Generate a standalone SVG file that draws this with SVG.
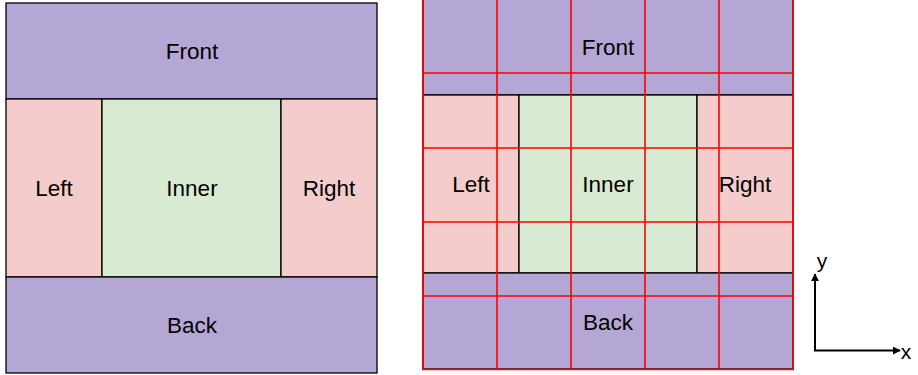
<svg xmlns="http://www.w3.org/2000/svg" width="918" height="375" viewBox="0 0 918 375">
<style>
.p{fill:#b4a7d6;stroke:#000;stroke-width:1.3}
.r{fill:#f4cccc;stroke:#000;stroke-width:1.3}
.g{fill:#d9ead3;stroke:#000;stroke-width:1.3}
.t{font-family:"Liberation Sans",Arial,sans-serif;font-size:22.5px;fill:#000;text-anchor:middle;dominant-baseline:central}
.grid line{stroke:#ff0000;stroke-width:1.6}
.ax{stroke:#000;stroke-width:2;fill:none}
.al{font-family:"Liberation Sans",Arial,sans-serif;font-size:21px;fill:#000;text-anchor:middle}
</style>
<defs>
<marker id="ah" viewBox="0 0 10 10" refX="9" refY="5" markerWidth="4" markerHeight="4" orient="auto" markerUnits="strokeWidth">
<path d="M0,0 L10,5 L0,10 z" fill="#000"/>
</marker>
</defs>
<rect width="918" height="375" fill="#fff"/>
<g id="left-diagram">
<g id="front1"><rect class="p" x="6" y="3" width="371" height="96"/><text class="t" x="192" y="51">Front</text></g>
<g id="left1"><rect class="r" x="6" y="99" width="96" height="178"/><text class="t" x="54" y="188">Left</text></g>
<g id="inner1"><rect class="g" x="102" y="99" width="179" height="178"/><text class="t" x="192" y="188">Inner</text></g>
<g id="right1"><rect class="r" x="281" y="99" width="96" height="178"/><text class="t" x="329" y="188">Right</text></g>
<g id="back1"><rect class="p" x="6" y="277" width="371" height="96"/><text class="t" x="192" y="325">Back</text></g>
</g>
<g id="right-diagram">
<g id="front2"><rect class="p" x="423" y="-1" width="370" height="96"/><text class="t" x="608" y="47">Front</text></g>
<g id="left2"><rect class="r" x="423" y="95" width="96" height="178"/><text class="t" x="471" y="184">Left</text></g>
<g id="inner2"><rect class="g" x="519" y="95" width="178" height="178"/><text class="t" x="608" y="184">Inner</text></g>
<g id="right2"><rect class="r" x="697" y="95" width="96" height="178"/><text class="t" x="745" y="184">Right</text></g>
<g id="back2"><rect class="p" x="423" y="273" width="370" height="96"/><text class="t" x="608" y="322">Back</text></g>
</g>
<g id="grid" class="grid">
<line x1="423" y1="-1" x2="423" y2="370"/>
<line x1="497" y1="-1" x2="497" y2="370"/>
<line x1="571" y1="-1" x2="571" y2="370"/>
<line x1="645" y1="-1" x2="645" y2="370"/>
<line x1="719" y1="-1" x2="719" y2="370"/>
<line x1="793" y1="-1" x2="793" y2="370"/>
<line x1="422" y1="73" x2="794" y2="73"/>
<line x1="422" y1="148" x2="794" y2="148"/>
<line x1="422" y1="222" x2="794" y2="222"/>
<line x1="422" y1="296" x2="794" y2="296"/>
<line x1="422" y1="369.5" x2="794" y2="369.5"/>
</g>
<g id="connectors">
<path class="ax" d="M815,351 L815,274" marker-end="url(#ah)"/>
<path class="ax" d="M814,350.5 L900,350.5" marker-end="url(#ah)"/>
</g>
<g id="axis-labels">
<text class="al" x="822" y="267.5">y</text>
<text class="al" x="906" y="358.5">x</text>
</g>
</svg>
